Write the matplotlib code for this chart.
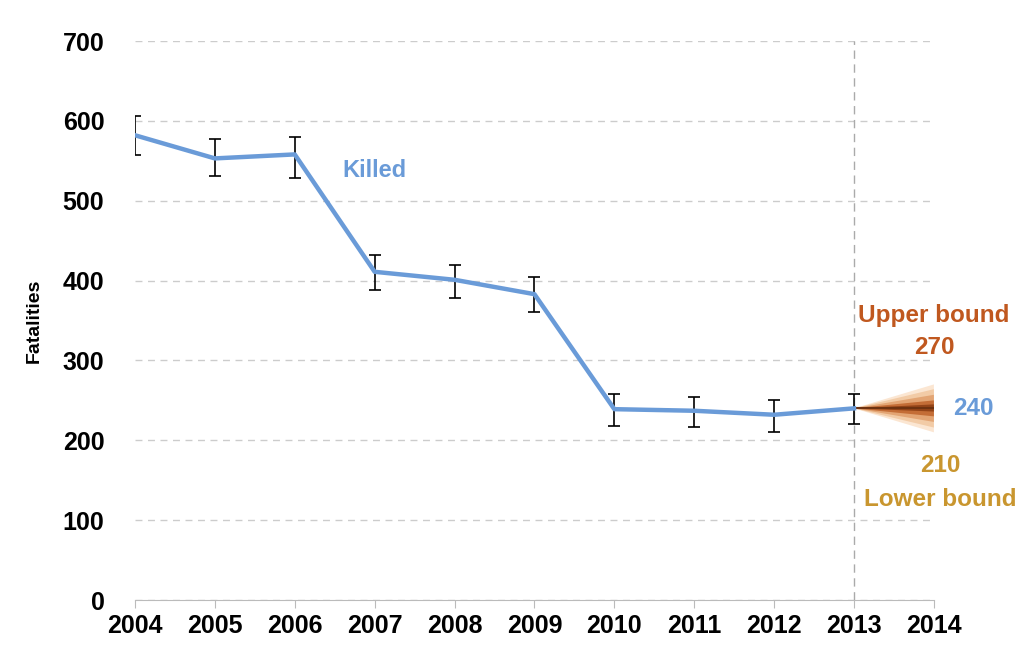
import numpy as np
import matplotlib
matplotlib.use("Agg")
import matplotlib.pyplot as plt

plt.rcParams["font.family"] = ["Liberation Sans", "DejaVu Sans"]
plt.rcParams["font.weight"] = "bold"

# killed per year, with error bar ends
years = [2004, 2005, 2006, 2007, 2008, 2009, 2010, 2011, 2012, 2013]
killed = [582, 553, 558, 411, 401, 383, 239, 237, 232, 240]
upper = [606, 577, 580, 432, 419, 404, 258, 254, 250, 258]
lower = [557, 531, 528, 388, 378, 361, 218, 217, 210, 220]

# 2014 projection fan (outer to inner bands)
proj_year = 2014
proj_mid = 240
fan_high = [270, 264, 257, 250, 245]
fan_low = [210, 216, 223, 230, 236]
fan_colors = ["#fbe6d2", "#f2cba6", "#e3a574", "#c46d36", "#934418"]

blue = "#6a9bd8"
orange = "#c0581f"
gold = "#c9962f"

fig = plt.figure(figsize=(10.24, 6.51), dpi=100)
ax = fig.add_axes([0.1318, 0.0783, 0.7802, 0.8587])

yerr = [np.array(killed) - np.array(lower), np.array(upper) - np.array(killed)]
ax.errorbar(years, killed, yerr=yerr, fmt="none", ecolor="black",
            elinewidth=1.2, capsize=4, capthick=1.2, zorder=3)
ax.plot(years, killed, color=blue, lw=3.2, zorder=4)

# fan chart
x0, y0 = years[-1], killed[-1]
for hi, lo, c in zip(fan_high, fan_low, fan_colors):
    ax.fill([x0, proj_year, proj_year], [y0, hi, lo], color=c, lw=0, zorder=2)
ax.plot([x0, proj_year], [y0, proj_mid], color="#6e3210", lw=1.5, zorder=2)

ax.axvline(2013, color="#aaaaaa", ls=(0, (6, 4)), lw=1.0, zorder=1)

ax.set_xlim(2004, 2014)
ax.set_ylim(0, 700)
ax.set_xticks(range(2004, 2015))
ax.set_yticks(range(0, 701, 100))
ax.tick_params(axis="x", labelsize=18, length=6, color="#bbbbbb", pad=4)
ax.tick_params(axis="y", labelsize=18, length=0, pad=22)
ax.grid(axis="y", color="#cccccc", ls=(0, (5, 4)), lw=1.0)
ax.set_axisbelow(True)
for s in ["top", "right", "left"]:
    ax.spines[s].set_visible(False)
ax.spines["bottom"].set_color("#bbbbbb")
ax.set_ylabel("Fatalities", fontsize=14, fontweight="bold", labelpad=14)

ax.text(2006.6, 538, "Killed", color=blue, fontsize=17, ha="left", va="center")
ax.text(2014.0, 356, "Upper bound", color=orange, fontsize=17.5, ha="center",
        va="center", clip_on=False)
ax.text(2014.0, 316, "270", color=orange, fontsize=17.5, ha="center", va="center",
        clip_on=False)
ax.text(2014.5, 240, "240", color=blue, fontsize=17.5, ha="center", va="center",
        clip_on=False)
ax.text(2014.08, 168, "210", color=gold, fontsize=17.5, ha="center", va="center",
        clip_on=False)
ax.text(2014.08, 126, "Lower bound", color=gold, fontsize=17.5, ha="center",
        va="center", clip_on=False)

fig.savefig("out.png", dpi=100)
